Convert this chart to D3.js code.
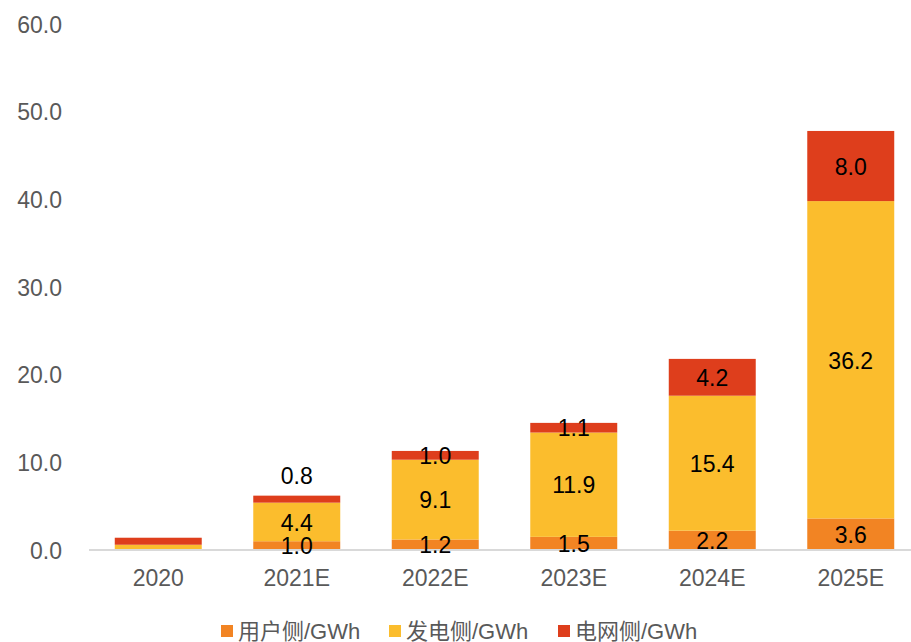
<!DOCTYPE html>
<html>
<head>
<meta charset="utf-8">
<script src="https://cdn.jsdelivr.net/npm/d3@7/dist/d3.min.js"></script>
<style>
  html, body { margin: 0; padding: 0; background: #ffffff; }
  svg { display: block; font-family: "Liberation Sans", Arial, "Noto Sans CJK SC", sans-serif; }
</style>
</head>
<body>
<svg id="chart" width="911" height="642"></svg>
<script>
// Energy storage installations by application side (GWh)
const categories = ["2020", "2021E", "2022E", "2023E", "2024E", "2025E"];
const seriesNames = ["用户侧/GWh", "发电侧/GWh", "电网侧/GWh"];
const userSide = [0.0, 1.0, 1.2, 1.5, 2.2, 3.6];
const generationSide = [0.6, 4.4, 9.1, 11.9, 15.4, 36.2];
const gridSide = [0.8, 0.8, 1.0, 1.1, 4.2, 8.0];
const yTicks = [0, 10, 20, 30, 40, 50, 60];
const seriesColors = ["#F28423", "#FBBD2D", "#DE3E1C"];

const seriesValues = [userSide, generationSide, gridSide];
const rows = categories.map((c, i) => {
  const r = { category: c };
  seriesNames.forEach((s, k) => { r[s] = seriesValues[k][i]; });
  return r;
});

const svg = d3.select("#chart");

const x = d3.scaleBand()
  .domain(categories)
  .range([89, 920])
  .paddingInner(0.372)
  .paddingOuter(0.186);

const y = d3.scaleLinear()
  .domain([0, 60])
  .range([550, 24]);

const stack = d3.stack().keys(seriesNames);
const layers = stack(rows);

// y-axis labels only (no line, no gridlines)
const yAxis = d3.axisLeft(y)
  .tickValues(yTicks)
  .tickFormat(d3.format(".1f"))
  .tickSize(0)
  .tickPadding(0);
const gy = svg.append("g")
  .attr("transform", "translate(62,0)")
  .call(yAxis);
gy.select(".domain").remove();
gy.selectAll("text")
  .attr("fill", "#595959")
  .attr("font-size", 23)
  .attr("font-family", null)
  .attr("dy", "0.35em");

// bars
const groups = svg.append("g").selectAll("g")
  .data(layers)
  .join("g")
  .attr("fill", (d, i) => seriesColors[i]);

groups.selectAll("rect")
  .data(d => d)
  .join("rect")
  .attr("x", d => x(d.data.category))
  .attr("width", x.bandwidth())
  .attr("y", d => y(d[1]))
  .attr("height", d => y(d[0]) - y(d[1]));

// x-axis baseline and category labels
const xAxis = d3.axisBottom(x).tickSize(0).tickPadding(0);
const gx = svg.append("g")
  .attr("transform", "translate(0,550)")
  .call(xAxis);
gx.select(".domain")
  .attr("stroke", "#d9d9d9")
  .attr("stroke-width", 2)
  .attr("d", "M89,0H911");
gx.selectAll("text")
  .attr("fill", "#595959")
  .attr("font-size", 23)
  .attr("font-family", null)
  .attr("y", 28)
  .attr("dy", "0.35em");

// value labels: centred in each segment; a thin top segment gets its label above the bar
const labelLayer = svg.append("g");
layers.forEach((layer, k) => {
  layer.forEach((d, i) => {
    if (categories[i] === "2020") return;
    const v = seriesValues[k][i];
    const isTop = k === seriesNames.length - 1;
    const above = isTop && v < 0.9;
    const cy = above ? y(d[1]) - 20 : (y(d[0]) + y(d[1])) / 2;
    labelLayer.append("text")
      .attr("x", x(d.data.category) + x.bandwidth() / 2)
      .attr("y", cy)
      .attr("dy", "0.38em")
      .attr("text-anchor", "middle")
      .attr("font-size", 23)
      .attr("fill", "#000000")
      .text(d3.format(".1f")(v));
  });
});

// legend
const legendX = [221, 389, 558];
const legend = svg.append("g");
seriesNames.forEach((s, k) => {
  const g = legend.append("g").attr("transform", `translate(${legendX[k]},631)`);
  g.append("rect")
    .attr("x", 0).attr("y", -6)
    .attr("width", 12).attr("height", 12)
    .attr("fill", seriesColors[k]);
  g.append("text")
    .attr("x", 17)
    .attr("y", 0)
    .attr("dy", "0.36em")
    .attr("font-size", 22)
    .attr("fill", "#595959")
    .text(s);
});
</script>
</body>
</html>
